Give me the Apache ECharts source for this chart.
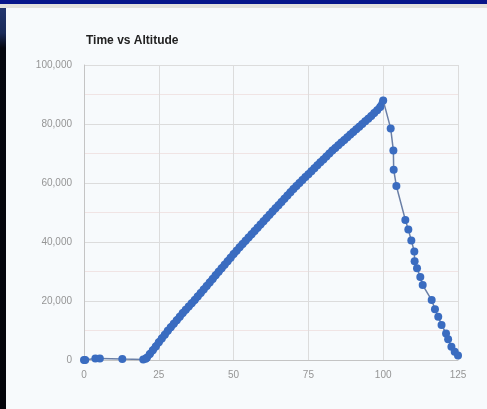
<!DOCTYPE html>
<html>
<head>
<meta charset="utf-8">
<script src="https://cdn.jsdelivr.net/npm/echarts@6/dist/echarts.min.js"></script>
<style>
  html, body { margin: 0; padding: 0; background: #f7fafc; }
  #main { position: absolute; left: 0; top: 0; width: 487px; height: 409px; }
  .topbar { position: absolute; left: 0; top: 0; width: 487px; height: 4px; background: #07168a; z-index: 5; }
  .topband { position: absolute; left: 0; top: 4px; width: 487px; height: 4px; background: #e2e1dc; z-index: 5; }
  .leftstrip { position: absolute; left: 0; top: 8px; width: 6px; height: 401px; z-index: 5;
    background: linear-gradient(to bottom, #22366e 0px, #1a2a58 25px, #05070f 40px, #03040a 100%); }
</style>
</head>
<body>
<div id="main"></div>
<div class="topbar"></div>
<div class="topband"></div>
<div class="leftstrip"></div>
<script>
// time (s) and altitude readings
const timeFlat = [0, 0.4, 3.8, 5.3, 12.8, 19.8, 20.6]
const altFlat = [0, 0, 500, 500, 300, 200, 400]

const timeUp = [21, 22, 23, 24, 25, 26, 27, 28, 29, 30,
  31, 32, 33, 34, 35, 36, 37, 38, 39, 40,
  41, 42, 43, 44, 45, 46, 47, 48, 49, 50,
  51, 52, 53, 54, 55, 56, 57, 58, 59, 60,
  61, 62, 63, 64, 65, 66, 67, 68, 69, 70,
  71, 72, 73, 74, 75, 76, 77, 78, 79, 80,
  81, 82, 83, 84, 85, 86, 87, 88, 89, 90,
  91, 92, 93, 94, 95, 96, 97, 98, 99, 100]
const altUp = [800, 2000, 3300, 4600, 6000, 7300, 8600, 9900, 11100, 12300,
  13500, 14700, 15900, 17000, 18100, 19200, 20300, 21500, 22700, 23900,
  25100, 26300, 27500, 28700, 29900, 31100, 32300, 33500, 34700, 35900,
  37000, 38200, 39300, 40400, 41500, 42600, 43700, 44800, 45900, 47000,
  48100, 49200, 50300, 51400, 52500, 53600, 54700, 55800, 56900, 58000,
  59000, 60000, 61000, 62000, 63000, 64000, 65000, 66000, 67000, 68000,
  69000, 70000, 71000, 71900, 72800, 73700, 74600, 75500, 76400, 77300,
  78200, 79100, 80000, 80900, 81800, 82700, 83700, 84700, 85800, 88000]

const timeDown = [102.5, 103.4, 103.5, 104.4, 107.4, 108.4, 109.4, 110.4, 110.5, 111.3,
  112.4, 113.2, 116.2, 117.3, 118.4, 119.5, 121.0, 121.7, 122.8, 123.9, 125]
const altDown = [78500, 71000, 64500, 59000, 47500, 44200, 40500, 36800, 33500, 31100,
  28100, 25400, 20300, 17200, 14700, 11900, 9000, 7000, 4500, 2800, 1500]

const xTicks = [0, 25, 50, 75, 100, 125]
const yTicks = [0, 20000, 40000, 60000, 80000, 100000]

const times = timeFlat.concat(timeUp, timeDown)
const alts = altFlat.concat(altUp, altDown)
const points = times.map((t, i) => [t, alts[i]])
const upPoints = timeUp.map((t, i) => [t, altUp[i]])

let chart = echarts.init(document.getElementById("main"))
let option = {
    backgroundColor: "#f7fafc",
    animation: false,
    title: {
        text: "Time vs Altitude",
        left: 81,
        top: 30,
        textStyle: { fontSize: 12, fontWeight: "bold", color: "#222", fontFamily: "Liberation Sans" }
    },
    grid: { left: 84, right: 29, top: 65, bottom: 49, containLabel: false },
    xAxis: {
        type: "value",
        min: xTicks[0],
        max: xTicks[xTicks.length - 1],
        interval: 25,
        axisLine: { lineStyle: { color: "#c4c4c4" } },
        axisTick: { show: false },
        axisLabel: { color: "#959595", fontSize: 10, margin: 10, fontFamily: "Liberation Sans" },
        splitLine: { show: true, lineStyle: { color: "#dcdcdc" } }
    },
    yAxis: {
        type: "value",
        min: yTicks[0],
        max: yTicks[yTicks.length - 1],
        interval: 20000,
        axisLine: { show: true, lineStyle: { color: "#c4c4c4" } },
        axisTick: { show: false },
        axisLabel: {
            color: "#959595", fontSize: 10, margin: 12, fontFamily: "Liberation Sans",
            formatter: v => v.toLocaleString("en-US")
        },
        splitLine: { lineStyle: { color: "#dcdcdc" } },
        minorTick: { show: false, splitNumber: 2 },
        minorSplitLine: { show: true, lineStyle: { color: "#f0e4e4" } }
    },
    series: [
        {
            // dense climb reads as one thick stroke
            type: "line",
            data: upPoints,
            showSymbol: false,
            lineStyle: { color: "#3a6cc0", width: 7, cap: "round", join: "round" },
            z: 1
        },
        {
            type: "line",
            data: points,
            symbol: "circle",
            symbolSize: 8,
            itemStyle: { color: "#3a6cc0" },
            lineStyle: { color: "#6a7fa6", width: 1.5 },
            z: 2
        }
    ]
}
chart.setOption(option)
</script>
</body>
</html>
